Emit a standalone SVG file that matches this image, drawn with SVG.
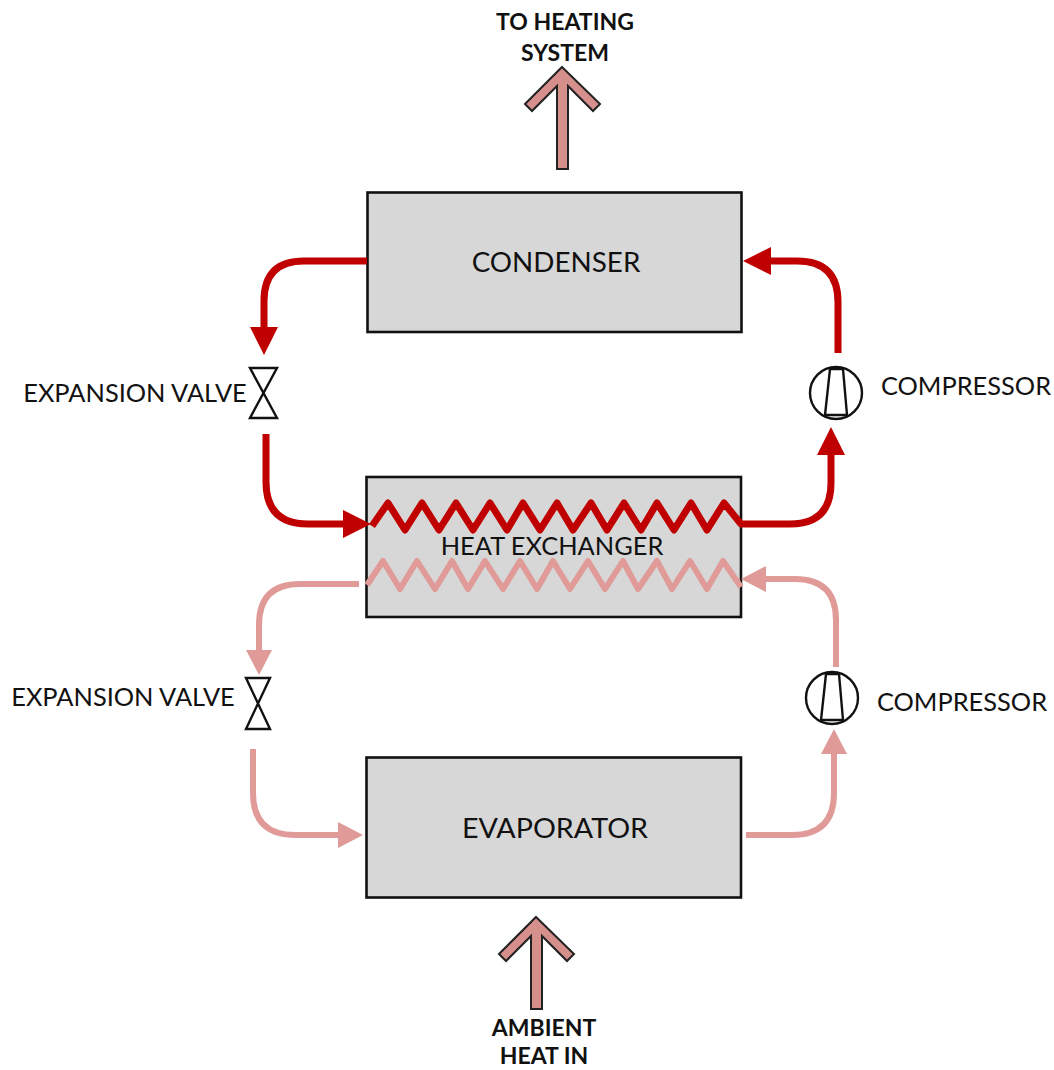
<svg xmlns="http://www.w3.org/2000/svg" width="1054" height="1070" viewBox="0 0 1054 1070">
<defs>
<marker id="hot" markerUnits="userSpaceOnUse" markerWidth="30" markerHeight="30" refX="14" refY="15" orient="auto"><path d="M0 1 L28 15 L0 29 Z" fill="#c00000"/></marker>
<marker id="cool" markerUnits="userSpaceOnUse" markerWidth="30" markerHeight="30" refX="12" refY="14" orient="auto"><path d="M0 1 L25 14 L0 27 Z" fill="#e09b98"/></marker>
</defs>
<style>
text{font-family:"Lato","Open Sans","Liberation Sans",sans-serif;fill:#111;text-anchor:middle}
.box{fill:#d7d7d7;stroke:#111;stroke-width:2.6}
.lbl{font-size:27.8px}
.sm{font-size:25.4px}
.b{font-size:23px;font-weight:700}
.hot{fill:none;stroke:#c00000;stroke-width:7}
.cool{fill:none;stroke:#e09b98;stroke-width:6}
.arrow{fill:#d6908c;stroke:#222;stroke-width:2;stroke-linejoin:miter}
.sym{fill:#fff;stroke:#111;stroke-width:2.4}
</style>
<g id="condenser"><rect class="box" x="367.500" y="192.500" width="374" height="139.500"/><text class="lbl" x="556" y="272">CONDENSER</text></g>
<g id="heat-exchanger"><rect class="box" x="366.500" y="477" width="374.500" height="140"/><text class="sm" x="552" y="555">HEAT EXCHANGER</text></g>
<g id="evaporator"><rect class="box" x="366.500" y="757.500" width="374.500" height="140"/><text class="lbl" x="555" y="838" textLength="186" lengthAdjust="spacingAndGlyphs">EVAPORATOR</text></g>
<g id="connectors">
<path class="hot" d="M367 261 H304 Q264 261 264 301 V341" marker-end="url(#hot)"/>
<path class="hot" d="M266 434 V482 Q266 524 308 524 H357" marker-end="url(#hot)"/>
<path class="hot" d="M372 526 L388 503 L405 530 L422 503 L439 530 L456 503 L473 530 L490 503 L507 530 L523 503 L540 530 L557 503 L573 530 L591 503 L607 530 L624 503 L641 530 L657 503 L674 530 L691 503 L707 530 L724 503 L741 524 H790 Q831 524 831 483 V441" marker-end="url(#hot)" stroke-linejoin="round"/>
<path class="hot" d="M838 353 V302 Q838 261 797 261 H757" marker-end="url(#hot)"/>
<path class="cool" d="M359 584 H300 Q259 584 259 625 V662" marker-end="url(#cool)"/>
<path class="cool" d="M253 749 V793 Q253 835 295 835 H350" marker-end="url(#cool)"/>
<path class="cool" d="M367 585 L383 561 L400 589 L417 561 L435 589 L452 561 L468 589 L485 561 L503 589 L520 561 L537 589 L553 561 L570 589 L588 561 L605 589 L623 561 L638 589 L657 561 L672 589 L690 561 L707 589 L723 561 L741 587" stroke-linejoin="round"/>
<path class="cool" d="M836 667 V620 Q836 579 795 579 H754" marker-end="url(#cool)"/>
<path class="cool" d="M746 835 H792 Q834 835 834 793 V742" marker-end="url(#cool)"/>
</g>
<g id="to-heating-system"><path class="arrow" d="M562 67 L600 104 L593 111 L568 86 V169 H557 V86 L532 111 L525 104 Z"/><text class="b" x="565" y="30">TO HEATING</text><text class="b" x="565" y="61">SYSTEM</text></g>
<g id="ambient-heat-in"><path class="arrow" d="M536 917 L574 954 L567 961 L542 936 V1009 H531 V936 L506 961 L499 954 Z"/><text class="b" x="544" y="1036">AMBIENT</text><text class="b" x="544" y="1064">HEAT IN</text></g>
<g id="valve-upper"><path class="sym" d="M250 368 H277 L250 418 H277 Z"/><text class="sm" x="135" y="402">EXPANSION VALVE</text></g>
<g id="valve-lower"><path class="sym" d="M246 678 H270 L246 729 H270 Z"/><text class="sm" x="123" y="706">EXPANSION VALVE</text></g>
<g id="compressor-upper"><circle class="sym" cx="836" cy="393" r="26"/><path class="sym" d="M830 369 H843 L847 415 H825 Z"/><text class="sm" x="966" y="395">COMPRESSOR</text></g>
<g id="compressor-lower"><circle class="sym" cx="832" cy="698" r="26"/><path class="sym" d="M826 674 H839 L843 720 H821 Z"/><text class="sm" x="962" y="711">COMPRESSOR</text></g>
</svg>
